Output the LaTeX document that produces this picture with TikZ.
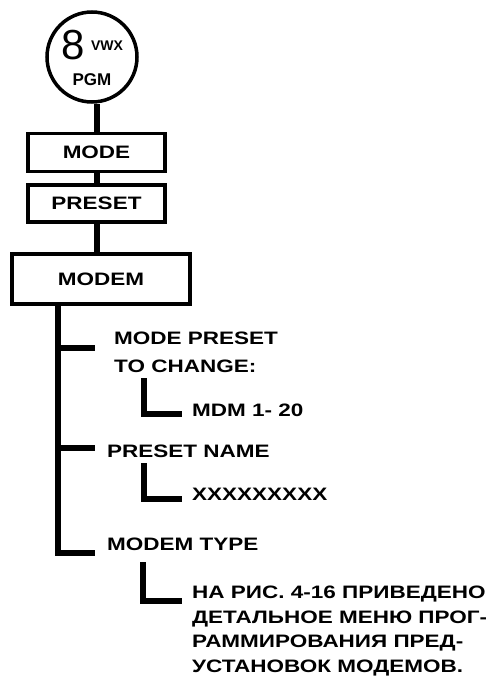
\documentclass[tikz,border=0pt]{standalone}
\usepackage{fontspec}
\setmainfont{Liberation Sans}[FakeStretch=1.25]
\newfontfamily\keyfont{Liberation Sans}
\usetikzlibrary{calc}

\tikzset{
  menubox/.style={draw, line width=3.5pt, minimum width=137pt, minimum height=38pt, inner sep=0pt, font=\bfseries\fontsize{18}{18}\selectfont},
  link/.style={line width=6pt},
  lbl/.style={anchor=base west, inner sep=0pt, font=\bfseries\fontsize{18}{18}\selectfont},
  lblblock/.style={anchor=west, inner sep=0pt, align=left},
}

\begin{document}
\begin{tikzpicture}[x=1pt, y=-1pt]
    \useasboundingbox (0,0) rectangle (486,677);
    % key circle
    \node[circle, draw, line width=3.5pt, minimum size=90pt, inner sep=0pt] (pgm) at (92,57) {};
    \node[inner sep=0pt, font=\keyfont\fontsize{42}{42}\selectfont] (eight) at (73.5,45) {8};
    \node[inner sep=0pt, font=\keyfont\bfseries\fontsize{14}{14}\selectfont] (vwx) at (107,45.5) {VWX};
    \node[inner sep=0pt, font=\keyfont\bfseries\fontsize{17}{17}\selectfont] (pgmlbl) at (92,80) {PGM};

    % menu boxes
    \node[menubox] (mode) at (96.5,152.5) {MODE};
    \node[menubox, minimum height=37pt] (preset) at (96.5,203.5) {PRESET};
    \node[menubox, minimum width=178pt, minimum height=50pt] (modem) at (101,279) {MODEM};

    \draw[link] (pgm.south -| mode.north) -- (mode.north);
    \draw[link] (mode.south) -- (preset.north);
    \draw[link] (preset.south) -- (preset.south |- modem.north);

    % items
    \node[lblblock, font=\bfseries\fontsize{18}{28}\selectfont] (chg) at (114,352.5) {MODE PRESET\\TO CHANGE:};
    \node[lbl] (mdm) at (192,416) {MDM 1- 20};
    \node[lbl] (pname) at (107,457) {PRESET NAME};
    \node[lbl] (xs) at (192,500) {XXXXXXXXX};
    \node[lbl] (mtype) at (107,550) {MODEM TYPE};
    \node[lblblock, font=\bfseries\fontsize{18}{24.5}\selectfont] (note) at (192,631)
        {НА РИС. 4-16 ПРИВЕДЕНО\\ДЕТАЛЬНОЕ МЕНЮ ПРОГ-\\РАММИРОВАНИЯ ПРЕД-\\УСТАНОВОК МОДЕМОВ.};

    % tree lines
    \coordinate (tr) at ($(modem.south west)+(48,0)$);
    \coordinate (b1) at (tr |- 0,348);
    \coordinate (e1) at (95,348);
    \coordinate (b2) at (tr |- 0,448);
    \coordinate (e2) at (95,448);
    \coordinate (e3) at (95,553);
    \draw[link] (tr) |- (e3);
    \draw[link] (b1) -- (e1);
    \draw[link] (b2) -- (e2);

    \coordinate (l1) at (144,378);
    \coordinate (m1) at (182,414);
    \coordinate (l2) at (144,463);
    \coordinate (m2) at (182,499);
    \coordinate (l3) at (143,562);
    \coordinate (m3) at (182,601);
    \draw[link] (l1) |- (m1);
    \draw[link] (l2) |- (m2);
    \draw[link] (l3) |- (m3);
\end{tikzpicture}
\end{document}
